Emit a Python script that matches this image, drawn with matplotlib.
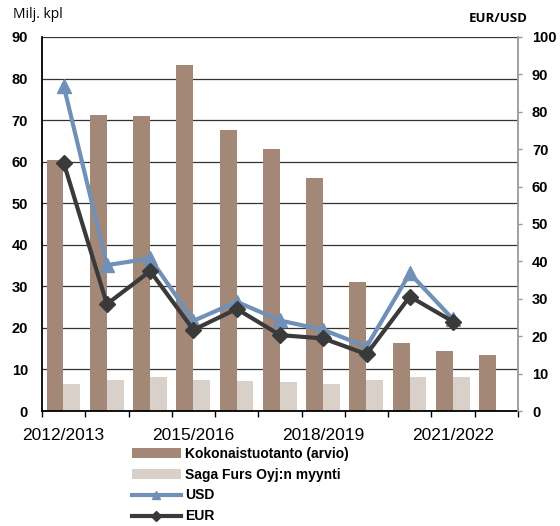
import matplotlib.pyplot as plt
import numpy as np
from matplotlib.patches import Patch
from matplotlib.lines import Line2D

plt.rcParams['font.family'] = ['Liberation Sans', 'DejaVu Sans']

kaudet = ["2012/2013", "2013/2014", "2014/2015", "2015/2016", "2016/2017",
          "2017/2018", "2018/2019", "2019/2020", "2020/2021", "2021/2022",
          "2022/2023"]
kokonaistuotanto = [60.3, 71.2, 71.1, 83.2, 67.5, 63.0, 56.1, 31.1, 16.4, 14.4, 13.5]
saga_myynti = [6.5, 7.4, 8.3, 7.5, 7.3, 6.9, 6.5, 7.4, 8.3, 8.1, np.nan]
usd = [87.0, 39.0, 40.8, 24.1, 29.2, 24.2, 21.7, 17.2, 36.8, 24.5, np.nan]
eur = [66.4, 28.6, 37.4, 21.7, 27.3, 20.3, 19.4, 15.2, 30.6, 23.9, np.nan]

VARI_TUOTANTO = "#a38877"
VARI_SAGA = "#dad0ca"
VARI_USD = "#7090b8"
VARI_EUR = "#3a3a3a"

x = np.arange(len(kaudet))

fig = plt.figure(figsize=(5.6, 5.26), dpi=100)
ax = fig.add_axes([0.075, 0.2186, 0.85, 0.7111])

ax.bar(x - 0.2, kokonaistuotanto, width=0.39, color=VARI_TUOTANTO, zorder=2)
ax.bar(x + 0.19, saga_myynti, width=0.39, color=VARI_SAGA, zorder=2)
ax.set_ylim(0, 90)
ax.set_xlim(-0.5, len(kaudet) - 0.5)
ax.set_yticks(range(0, 91, 10))
ax.yaxis.grid(True, color="#333333", linewidth=0.9, zorder=0)
ax.set_axisbelow(True)

ax.set_xticks(np.arange(-0.5, len(kaudet), 1))
ax.set_xticklabels([])
ax.tick_params(axis="x", which="major", direction="out", length=4.5,
               width=1, color="black")
ax.set_xticks(x[::3], minor=True)
ax.set_xticklabels([kaudet[i] for i in x[::3]], minor=True, fontsize=12.5)
ax.tick_params(axis="x", which="minor", length=0, pad=12)
ax.tick_params(axis="y", length=0, labelsize=10.5, pad=10)
for t in ax.get_yticklabels():
    t.set_fontweight("bold")

for s in ["top", "right"]:
    ax.spines[s].set_visible(False)
ax.spines["left"].set_color("black")
ax.spines["left"].set_linewidth(1.3)
ax.spines["bottom"].set_color("black")
ax.spines["bottom"].set_linewidth(1.3)

ax2 = ax.twinx()
ax2.plot(x, usd, color=VARI_USD, linewidth=3, marker="^", markersize=10, zorder=3)
ax2.plot(x, eur, color=VARI_EUR, linewidth=3, marker="D", markersize=8, zorder=4)
ax2.set_ylim(0, 100)
ax2.set_yticks(range(0, 101, 10))
ax2.tick_params(axis="y", direction="out", length=3, width=1, color="#999999",
                labelsize=10.5, pad=7)
for t in ax2.get_yticklabels():
    t.set_fontweight("bold")
for s in ["top", "left", "bottom"]:
    ax2.spines[s].set_visible(False)
ax2.spines["right"].set_color("#999999")
ax2.spines["right"].set_linewidth(1.3)

fig.text(0.023, 0.972, "Milj. kpl", fontsize=10, family=["Open Sans", "DejaVu Sans"],
         va="center", ha="left")
fig.text(0.942, 0.965, "EUR/USD", fontsize=9.5, fontweight="bold",
         family=["Open Sans", "DejaVu Sans"], va="center", ha="right")

kahvat = [
    Patch(facecolor=VARI_TUOTANTO, edgecolor="none"),
    Patch(facecolor=VARI_SAGA, edgecolor="none"),
    Line2D([], [], color=VARI_USD, linewidth=3, marker="^", markersize=6),
    Line2D([], [], color=VARI_EUR, linewidth=3, marker="D", markersize=5),
]
nimet = ["Kokonaistuotanto (arvio)", "Saga Furs Oyj:n myynti", "USD", "EUR"]
fig.legend(kahvat, nimet, loc="upper left", bbox_to_anchor=(0.236, 0.151),
           frameon=False, prop={"weight": "bold", "size": 10},
           handlelength=3.5, handleheight=0.7, handletextpad=0.3,
           labelspacing=0.5, borderpad=0, borderaxespad=0)

plt.savefig("out.png", dpi=100)
